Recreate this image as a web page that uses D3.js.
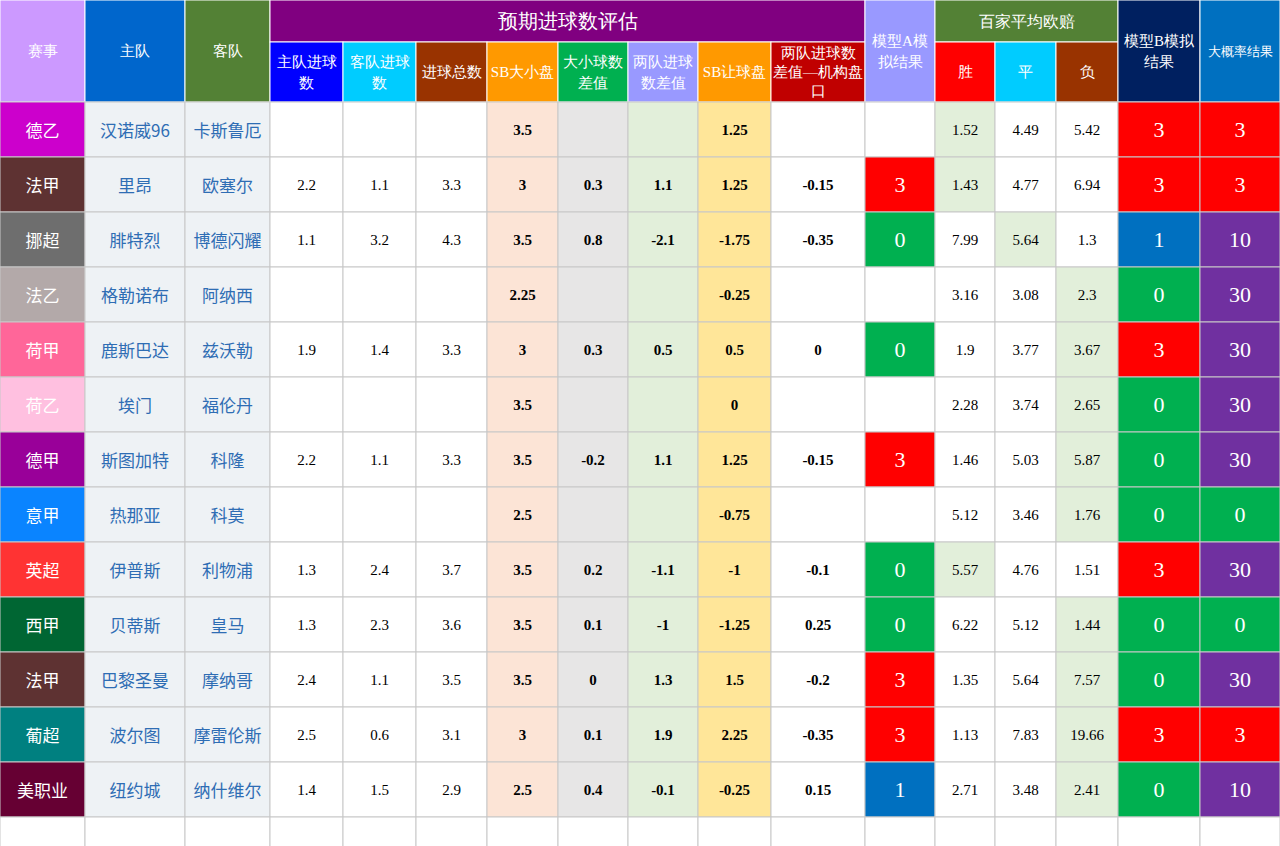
<!DOCTYPE html><html><head><meta charset="utf-8"><script src="https://cdn.jsdelivr.net/npm/d3@7"></script>
<style>body{margin:0;background:#fff}</style></head><body><svg id="c" width="1280" height="846"></svg>
<script>
const leagues=["德乙","法甲","挪超","法乙","荷甲","荷乙","德甲","意甲","英超","西甲","法甲","葡超","美职业"];
const leagueColors=["#cc00cc","#5e3232","#6e6e6e","#b3a9a9","#ff6699","#ffc0e0","#990099","#0a84ff","#ff3333","#006633","#5e3232","#008080","#660033"];
const homeTeams=["汉诺威96","里昂","腓特烈","格勒诺布","鹿斯巴达","埃门","斯图加特","热那亚","伊普斯","贝蒂斯","巴黎圣曼","波尔图","纽约城"];
const awayTeams=["卡斯鲁厄","欧塞尔","博德闪耀","阿纳西","兹沃勒","福伦丹","科隆","科莫","利物浦","皇马","摩纳哥","摩雷伦斯","纳什维尔"];
const homeGoals=["","2.2","1.1","","1.9","","2.2","","1.3","1.3","2.4","2.5","1.4"];
const awayGoals=["","1.1","3.2","","1.4","","1.1","","2.4","2.3","1.1","0.6","1.5"];
const totalGoals=["","3.3","4.3","","3.3","","3.3","","3.7","3.6","3.5","3.1","2.9"];
const sbOU=["3.5","3","3.5","2.25","3","3.5","3.5","2.5","3.5","3.5","3.5","3","2.5"];
const ouDiff=["","0.3","0.8","","0.3","","-0.2","","0.2","0.1","0","0.1","0.4"];
const goalDiff=["","1.1","-2.1","","0.5","","1.1","","-1.1","-1","1.3","1.9","-0.1"];
const sbHcp=["1.25","1.25","-1.75","-0.25","0.5","0","1.25","-0.75","-1","-1.25","1.5","2.25","-0.25"];
const hcpDiff=["","-0.15","-0.35","","0","","-0.15","","-0.1","0.25","-0.2","-0.35","0.15"];
const modelA=["","3","0","","0","","3","","0","0","3","3","1"];
const oddsWin=["1.52","1.43","7.99","3.16","1.9","2.28","1.46","5.12","5.57","6.22","1.35","1.13","2.71"];
const oddsDraw=["4.49","4.77","5.64","3.08","3.77","3.74","5.03","3.46","4.76","5.12","5.64","7.83","3.48"];
const oddsLose=["5.42","6.94","1.3","2.3","3.67","2.65","5.87","1.76","1.51","1.44","7.57","19.66","2.41"];
const oddsHighlight=[0,0,1,2,2,2,2,2,0,2,2,2,2];
const modelB=["3","3","1","0","3","0","0","0","3","0","0","3","0"];
const likely=["3","3","10","30","30","30","30","0","30","0","30","3","10"];

const cols=[0,85,185,270,343,416,487,558,628,698,771,865,935,995,1056,1118,1200,1280];
const rowTop=102,rowH=55,nRows=leagues.length;
const svg=d3.select("#c");
const y=d3.scaleBand().domain(d3.range(nRows+1)).range([rowTop,rowTop+rowH*(nRows+1)]).padding(0);
const serif="Liberation Serif, serif",sans="Noto Sans CJK SC, sans-serif";
function rect(x0,x1,y0,y1,fill,stroke){svg.append("rect").attr("x",x0).attr("y",y0).attr("width",x1-x0).attr("height",y1-y0).attr("fill",fill).attr("stroke",stroke||"#c8c8c8").attr("stroke-width",1);}
function text(x,yy,t,o){const e=svg.append("text").attr("x",x).attr("y",yy).attr("text-anchor","middle").attr("dominant-baseline","central")
 .attr("font-family",o.font||serif).attr("font-size",o.size||15).attr("fill",o.fill||"#000").attr("font-weight",o.bold?"bold":"normal").text(t);}
function mtext(x,cy,lines,o){const lh=o.lh||20;lines.forEach((l,i)=>text(x,cy+(i-(lines.length-1)/2)*lh,l,o));}
// header
const hdr=[[0,1,"#cc99ff",["赛事"],0,102],[1,2,"#0066cc",["主队"],0,102],[2,3,"#538135",["客队"],0,102],
[3,11,"#800080",["预期进球数评估"],0,42],
[3,4,"#0000ff",["主队进球","数"],42,102],[4,5,"#00ccff",["客队进球","数"],42,102],[5,6,"#993300",["进球总数"],42,102],
[6,7,"#ff9900",["SB大小盘"],42,102],[7,8,"#00b050",["大小球数","差值"],42,102],[8,9,"#9999ff",["两队进球","数差值"],42,102],
[9,10,"#ff9900",["SB让球盘"],42,102],[10,11,"#c00000",["两队进球数","差值—机构盘","口"],42,102],
[11,12,"#9999ff",["模型A模","拟结果"],0,102],[12,15,"#538135",["百家平均欧赔"],0,42],
[12,13,"#ff0000",["胜"],42,102],[13,14,"#00ccff",["平"],42,102],[14,15,"#993300",["负"],42,102],
[15,16,"#002060",["模型B模拟","结果"],0,102],[16,17,"#0070c0",["大概率结果"],0,102]];
hdr.forEach(h=>{rect(cols[h[0]],cols[h[1]],h[4],h[5],h[2],"#ffffff");
 const big=h[3][0]==="预期进球数评估"||h[3][0]==="百家平均欧赔";
 mtext((cols[h[0]]+cols[h[1]])/2,(h[4]+h[5])/2,h[3],{fill:"#fff",size:big?(h[3][0]==="预期进球数评估"?20:16):(h[3][0]==="大概率结果"?13:15),lh:h[3].length===3?19:21});});
const mcol={"3":"#ff0000","0":"#00b050","1":"#0070c0","10":"#7030a0","30":"#7030a0"};
d3.range(nRows+1).forEach(i=>{
 const y0=y(i),y1=y0+rowH,cy=y0+rowH/2,blank=i===nRows;
 const cell=(c,fill,t,o)=>{rect(cols[c],cols[c+1],y0,y1,fill);if(t!==undefined&&t!=="")text((cols[c]+cols[c+1])/2,cy,t,o||{});};
 cell(0,blank?"#fff":leagueColors[i],blank?"":leagues[i],{fill:"#fff",size:17,font:sans});
 cell(1,blank?"#fff":"#eef2f5",blank?"":homeTeams[i],{fill:"#2e6db4",size:17,font:sans});
 cell(2,blank?"#fff":"#eef2f5",blank?"":awayTeams[i],{fill:"#2e6db4",size:17,font:sans});
 if(blank){for(let c=3;c<17;c++)rect(cols[c],cols[c+1],y0,y1,"#fff");return;}
 cell(3,"#fff",homeGoals[i]);cell(4,"#fff",awayGoals[i]);cell(5,"#fff",totalGoals[i]);
 cell(6,"#fce4d6",sbOU[i],{bold:true});cell(7,"#e7e6e6",ouDiff[i],{bold:true});
 cell(8,"#e2efda",goalDiff[i],{bold:true});cell(9,"#ffe699",sbHcp[i],{bold:true});
 cell(10,"#fff",hcpDiff[i],{bold:true});
 cell(11,modelA[i]===""?"#fff":mcol[modelA[i]],modelA[i],{fill:"#fff",size:22});
 [oddsWin,oddsDraw,oddsLose].forEach((a,k)=>cell(12+k,oddsHighlight[i]===k?"#e2efda":"#fff",a[i]));
 cell(15,mcol[modelB[i]],modelB[i],{fill:"#fff",size:22});
 cell(16,mcol[likely[i]],likely[i],{fill:"#fff",size:22});
});
</script></body></html>
